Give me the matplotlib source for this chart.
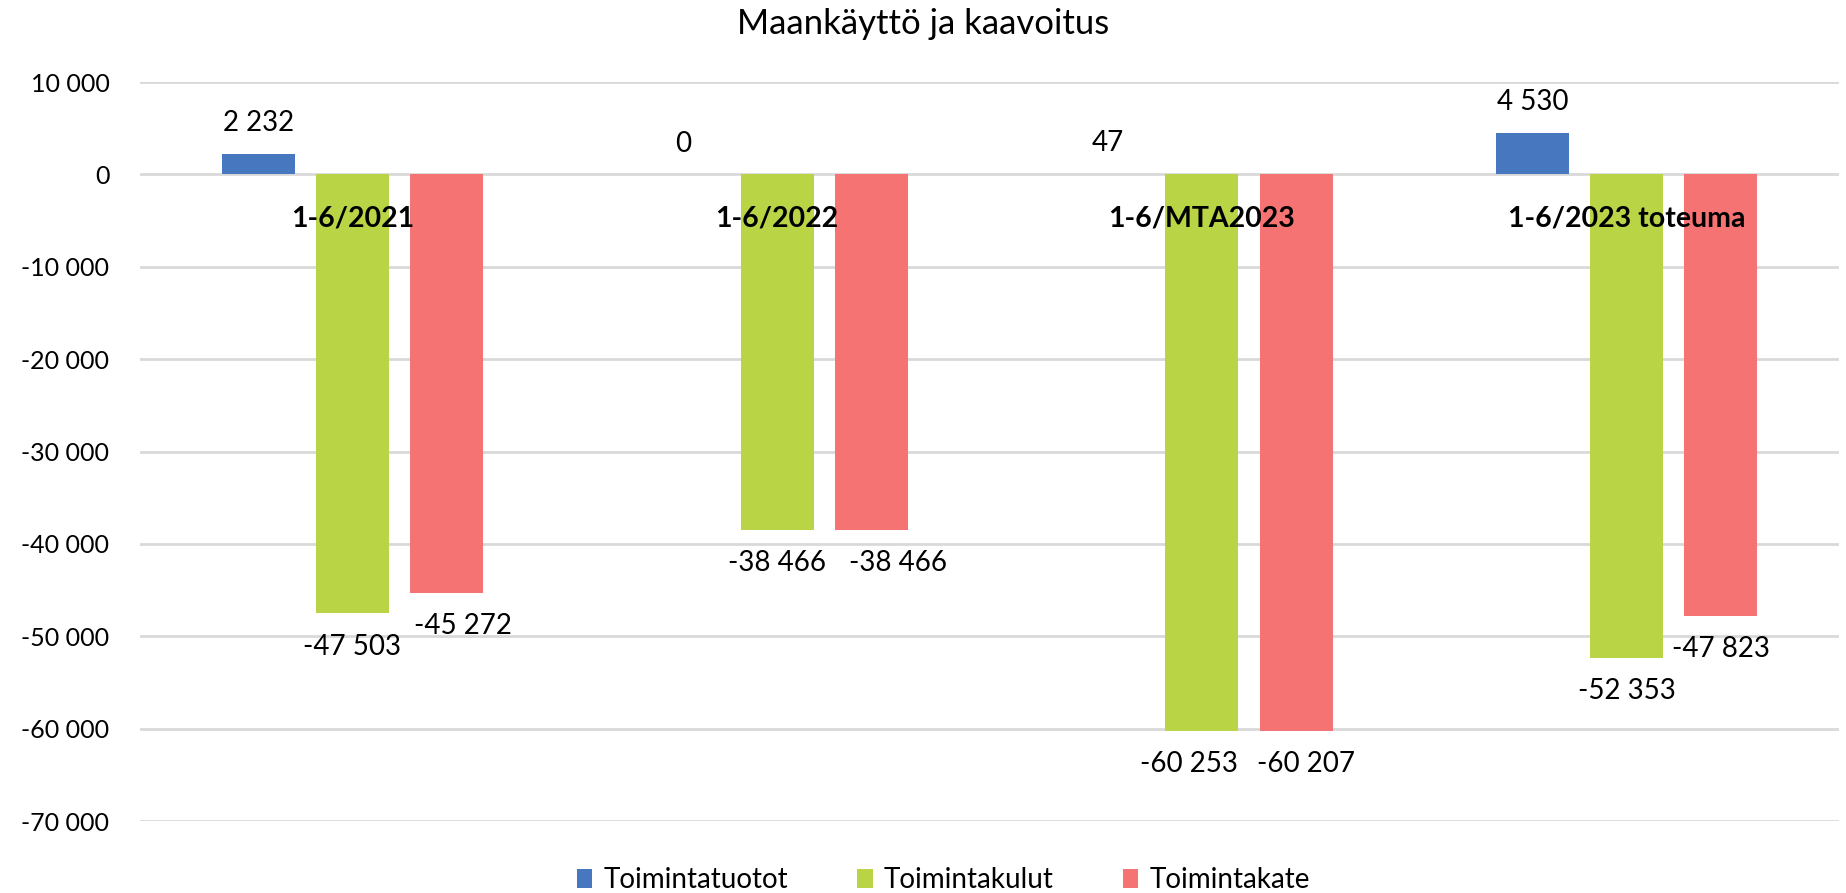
import matplotlib
matplotlib.use("Agg")
import matplotlib.pyplot as plt
from matplotlib.patches import Patch
import numpy as np

plt.rcParams['font.family'] = ['Lato', 'DejaVu Sans']

title = "Maankäyttö ja kaavoitus"
categories = ["1-6/2021", "1-6/2022", "1-6/MTA2023", "1-6/2023 toteuma"]
series_names = ["Toimintatuotot", "Toimintakulut", "Toimintakate"]
toimintatuotot = [2232, 0, 47, 4530]
toimintakulut = [-47503, -38466, -60253, -52353]
toimintakate = [-45272, -38466, -60207, -47823]
yticks = [10000, 0, -10000, -20000, -30000, -40000, -50000, -60000, -70000]

colors = ["#4677BF", "#B9D546", "#F57373"]
series = [toimintatuotot, toimintakulut, toimintakate]
# horizontal nudges (points) of data labels, as placed in the original to avoid overlap
label_dx = [[0, 0, 0, 0], [0, 0, -9, 0], [12, 19, 7, 0]]

def fmt(v):
    return f"{v:,}".replace(",", " ")

fig = plt.figure(figsize=(18.46, 8.93), dpi=100)
ax = fig.add_axes([140/1846, 1-821/893, (1839-140)/1846, (821-82)/893])

x = np.arange(len(categories))
offsets = [-0.222, 0.0, 0.222]
width = 0.172
for vals, off, col, dxs in zip(series, offsets, colors, label_dx):
    ax.bar(x + off, vals, width=width, color=col, zorder=3)
    for xi, v, dx in zip(x + off, vals, dxs):
        dy = 22 if v >= 0 else -24
        ax.annotate(fmt(v), (xi, v), xytext=(dx, dy), textcoords="offset points",
                    ha="center", va="center", fontsize=20, color="#000000")

for xi, c in zip(x, categories):
    ax.annotate(c, (xi, 0), xytext=(0, -32), textcoords="offset points",
                ha="center", va="center", fontsize=20.5, fontweight="bold", color="#000000",
                zorder=5)

ax.set_xlim(-0.5, 3.5)
ax.set_ylim(-70000, 10000)
ax.set_yticks(yticks)
ax.set_yticklabels([fmt(t) for t in yticks], fontsize=18)
ax.tick_params(axis='y', length=0, pad=22)
ax.set_xticks([])
ax.grid(axis='y', color="#D9D9D9", linewidth=2, zorder=0)
ax.set_axisbelow(True)
for s in ax.spines.values():
    s.set_visible(False)

fig.text(0.5, 1-24/893, title, ha="center", va="center", fontsize=25)

handles = [Patch(facecolor=c, edgecolor='none') for c in colors]
fig.legend(handles, series_names, loc="center", bbox_to_anchor=(0.511, 1-880/893),
           ncol=3, frameon=False, fontsize=20, handlelength=0.55, handleheight=0.7,
           handletextpad=0.4, columnspacing=2.5)

fig.savefig("out.png", dpi=100)
